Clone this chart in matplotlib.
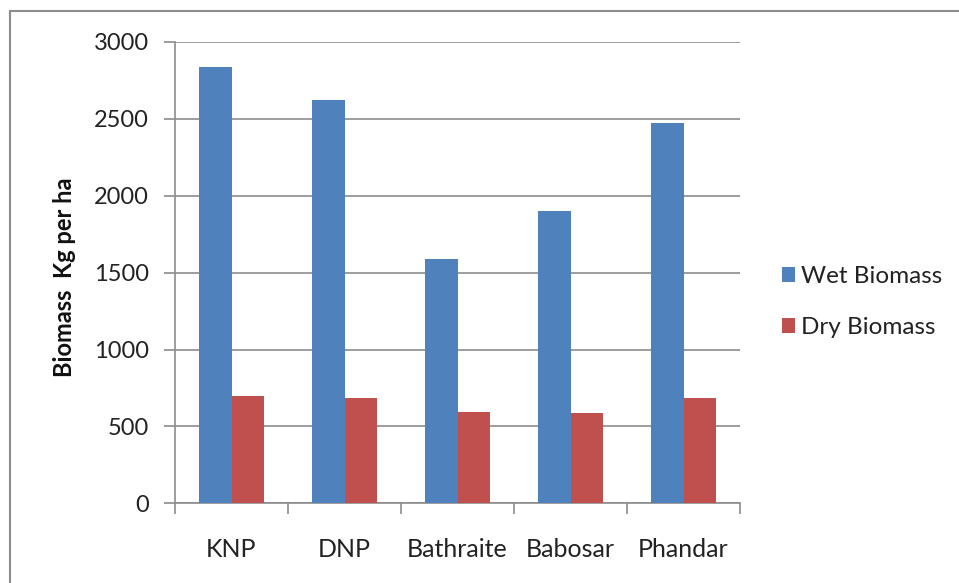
import matplotlib.pyplot as plt
import numpy as np
from matplotlib.patches import Rectangle

sites = ["KNP", "DNP", "Bathraite", "Babosar", "Phandar"]
wet_biomass = [2837, 2622, 1588, 1900, 2470]
dry_biomass = [700, 686, 594, 587, 686]
y_ticks = [0, 500, 1000, 1500, 2000, 2500, 3000]

plt.rcParams['font.family'] = ['Lato', 'DejaVu Sans']

W, H = 959, 583
fig = plt.figure(figsize=(W / 100, H / 100), dpi=100)
fig.patch.set_facecolor('white')

# outer chart frame
fig.patches.append(Rectangle((10 / W, -0.1), 1.2, 1 - 11.5 / H + 0.1,
                             transform=fig.transFigure, fill=False,
                             edgecolor='#8c8c8c', linewidth=1.5))

ax = fig.add_axes([175 / W, 1 - 503.3 / H, (740 - 175) / W, (503.3 - 42) / H])

x = np.arange(len(sites))
bw = 0.287
ax.bar(x - bw / 2, wet_biomass, bw, color='#4F81BD', label='Wet Biomass', zorder=3)
ax.bar(x + bw / 2, dry_biomass, bw, color='#C0504D', label='Dry Biomass', zorder=3)

ax.set_xlim(-0.5, len(sites) - 0.5)
ax.set_ylim(0, 3000)
ax.set_yticks(y_ticks)
ax.set_yticklabels([str(v) for v in y_ticks], fontsize=17, color='#222222')
ax.yaxis.grid(True, color='#8c8c8c', linewidth=1.2, zorder=0)
ax.set_axisbelow(True)

# category ticks sit on the boundaries between groups
ax.set_xticks(np.arange(len(sites) + 1) - 0.5)
ax.set_xticklabels([])
ax.set_xticks(x, minor=True)
ax.set_xticklabels(sites, minor=True, fontsize=18, color='#222222')
ax.tick_params(axis='x', which='minor', length=0, pad=25)
ax.tick_params(axis='x', which='major', length=8, color='#8c8c8c', width=1.2)
ax.tick_params(axis='y', length=8, color='#8c8c8c', width=1.2, pad=11)

for side in ['top', 'right']:
    ax.spines[side].set_visible(False)
for side in ['left', 'bottom']:
    ax.spines[side].set_color('#8c8c8c')
    ax.spines[side].set_linewidth(1.2)

fig.text(64 / W, 1 - 277 / H, 'Biomass  Kg per ha', rotation=90,
         ha='center', va='center', fontsize=17, fontweight='bold',
         color='#111111')

leg = fig.legend(loc='center left', bbox_to_anchor=(782 / W, 1 - 302 / H),
                 frameon=False, fontsize=17.5, handlelength=0.55,
                 handleheight=0.55, handletextpad=0.25, labelspacing=1.25,
                 borderpad=0, borderaxespad=0, labelcolor='#222222')

fig.savefig('out.png', dpi=100)
